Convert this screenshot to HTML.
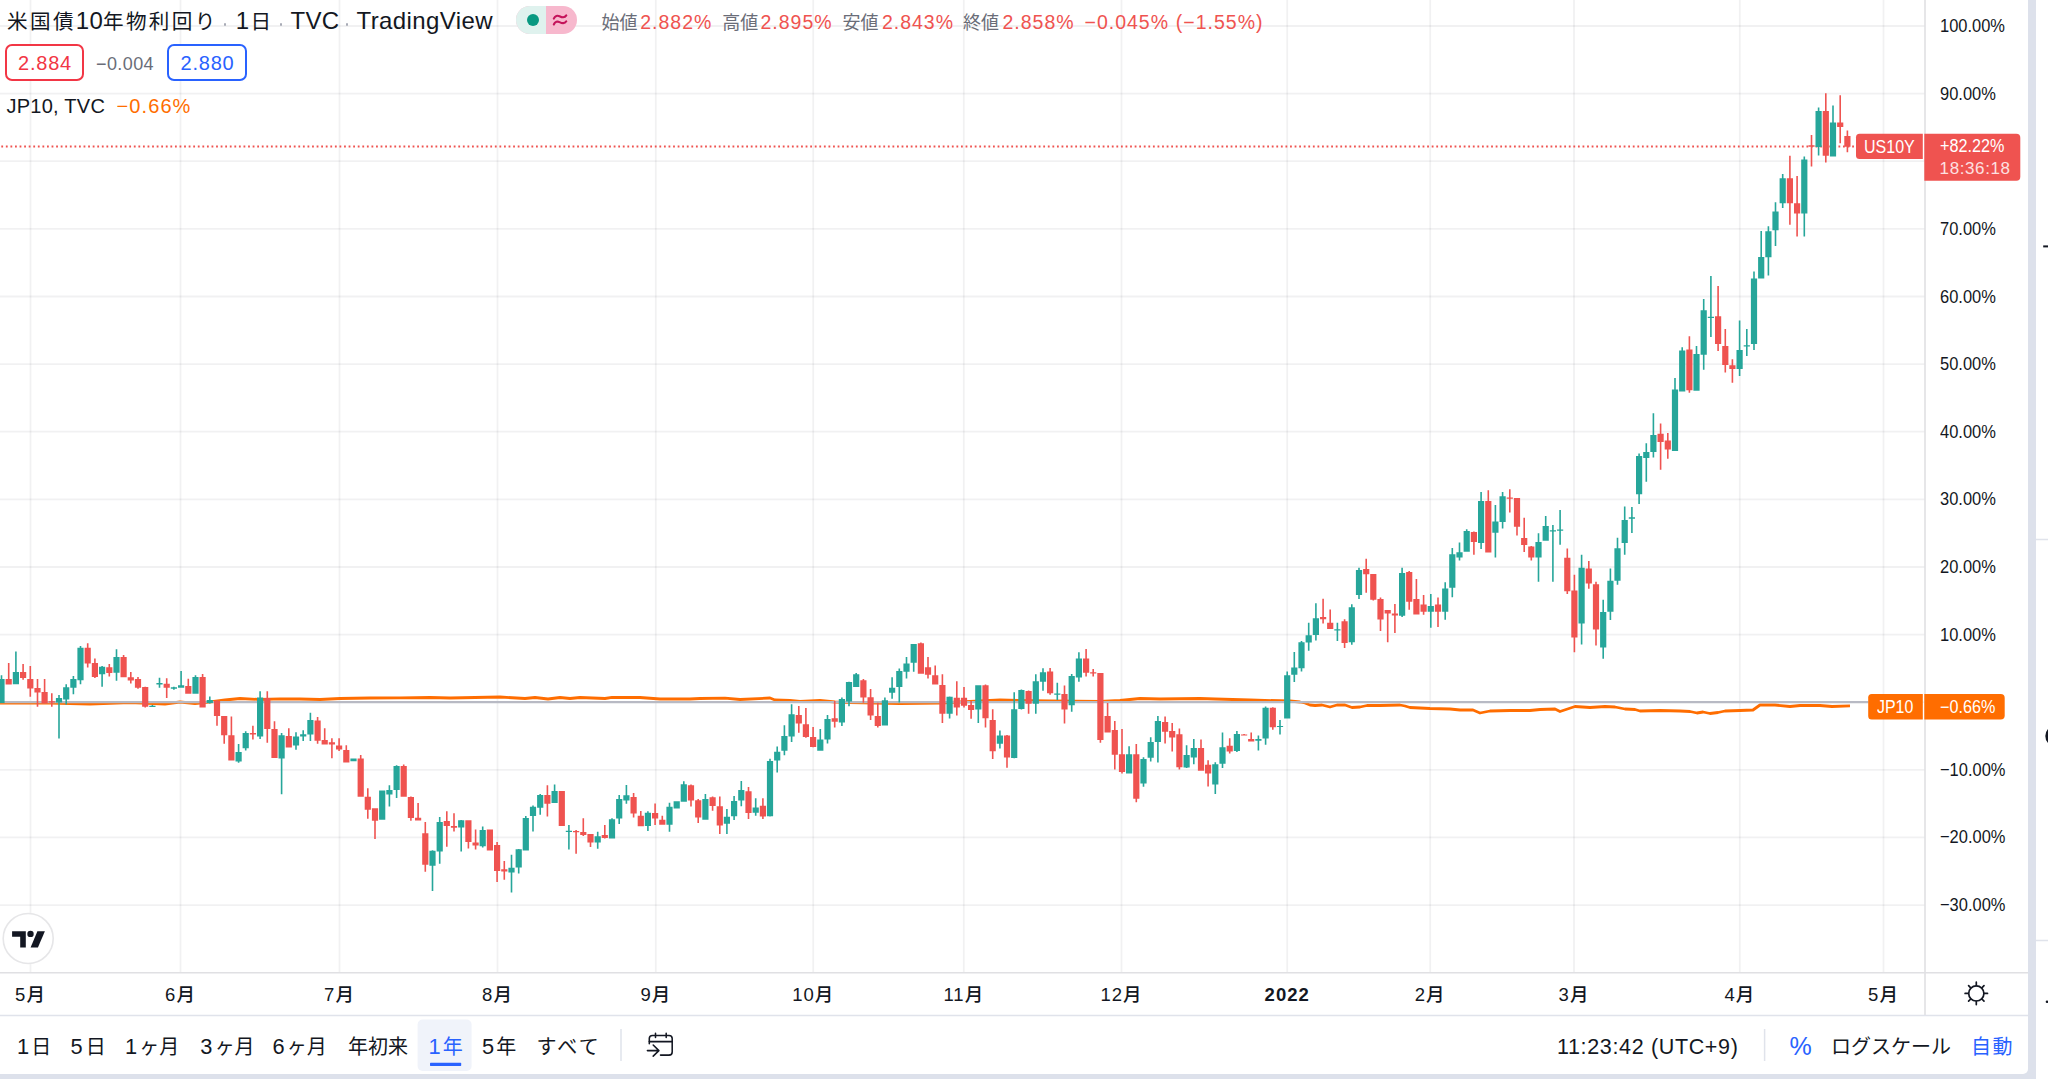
<!DOCTYPE html>
<html lang="ja">
<head>
<meta charset="utf-8">
<title>米国債10年物利回り</title>
<style>
*{margin:0;padding:0;box-sizing:border-box}
html,body{width:2048px;height:1079px;overflow:hidden;background:#fff}
body{position:relative;font-family:"Liberation Sans","Noto Sans CJK JP",sans-serif;color:#131722}
.abs{position:absolute;white-space:nowrap}
#card{position:absolute;left:0;top:0;width:2028px;height:1074px;background:#fff;border-bottom-right-radius:5px;overflow:hidden}
#rstrip{position:absolute;left:2028px;top:0;width:8px;height:1079px;background:#dde1eb}
#bstrip{position:absolute;left:0;top:1074px;width:2036px;height:5px;background:#dde1eb}
svg{position:absolute;left:0;top:0}
.pl{position:absolute;left:1940px;font-size:18.5px;line-height:22px;color:#131722;transform:scaleX(0.89);transform-origin:0 0}
.tl{position:absolute;top:983.5px;width:80px;text-align:center;font-size:18.5px;line-height:22px;color:#131722;font-weight:500;letter-spacing:1px}
.hdr{position:absolute;top:6px;font-size:23px;line-height:30px;color:#131722}
.dot{position:absolute;top:23px;width:2.6px;height:2.6px;border-radius:50%;background:#a8abb6}
.ohlc{position:absolute;top:10px;font-size:19.5px;line-height:24px;color:#ef5350;white-space:nowrap;letter-spacing:1px}
.ohlc.k{color:#6a6d78;font-size:18px;letter-spacing:0;top:11px}
.box{position:absolute;top:44px;height:37px;background:#fff;border:2px solid;border-radius:7px;font-size:20px;line-height:33px;text-align:center;letter-spacing:0.8px;padding-left:1px}
.tb{position:absolute;top:1032px;font-size:20px;line-height:30px;color:#131722}
.dg{font-size:21.8px;letter-spacing:2.2px}
</style>
</head>
<body>
<div style="position:absolute;left:2016px;top:1062px;width:14px;height:14px;background:#dde1eb"></div>
<div id="card">
<svg width="2028" height="1074" viewBox="0 0 2028 1074">
  <g stroke="rgba(42,46,57,0.065)" stroke-width="1.8" fill="none"><path d="M0 26H1925"/><path d="M0 93.6H1925"/><path d="M0 161.2H1925"/><path d="M0 228.9H1925"/><path d="M0 296.5H1925"/><path d="M0 364.1H1925"/><path d="M0 431.7H1925"/><path d="M0 499.3H1925"/><path d="M0 567H1925"/><path d="M0 634.6H1925"/><path d="M0 702.2H1925"/><path d="M0 769.8H1925"/><path d="M0 837.4H1925"/><path d="M0 905.1H1925"/><path d="M30.5 0V972"/><path d="M180.5 0V972"/><path d="M339.5 0V972"/><path d="M497.5 0V972"/><path d="M655.8 0V972"/><path d="M813.2 0V972"/><path d="M963.8 0V972"/><path d="M1121.5 0V972"/><path d="M1287.2 0V972"/><path d="M1430.2 0V972"/><path d="M1574 0V972"/><path d="M1739.8 0V972"/><path d="M1883.5 0V972"/></g>
  <path d="M0 703.2 L50 703 L90 704 L130 702.5 L165 704 L180 702 L195 703.5 L210 702 L225 700 L240 698.5 L260 699.5 L280 698.8 L300 699 L320 699.5 L340 698.5 L370 698 L400 697.8 L430 697.5 L450 698 L500 697 L525 698.5 L535 697.5 L548 699 L560 697.5 L570 698.5 L580 697.5 L605 698.5 L612 697.3 L640 697.5 L660 699 L690 699 L700 698.5 L725 698.2 L740 699.5 L770 698 L775 700 L790 700.5 L800 701.5 L820 700.5 L835 702 L850 702.5 L900 703.5 L940 703 L970 701.5 L1000 700 L1050 701 L1100 701.5 L1120 700.5 L1140 698.5 L1160 699 L1200 698.5 L1215 699 L1250 700 L1290 701 L1300 702 L1305 703 L1310 705 L1315 705.5 L1322 705 L1330 707 L1337 705 L1345 705 L1352 707.5 L1360 707 L1367 705.5 L1380 705.5 L1400 705 L1405 706 L1410 707.5 L1430 708.5 L1450 709 L1460 710 L1473 710 L1480 713 L1490 711 L1510 710.5 L1530 710.5 L1540 709.5 L1555 709 L1560 711.5 L1575 706.5 L1590 707.5 L1605 706.5 L1615 707 L1625 709 L1635 709.5 L1640 711 L1660 710.5 L1680 711 L1690 711.5 L1697 713 L1703 712 L1710 713.5 L1718 712.5 L1725 711 L1740 710.5 L1753 710 L1760 705 L1775 705 L1790 706.5 L1800 705.5 L1820 705.5 L1832 706.5 L1850 705.8" stroke="#ff6d00" stroke-width="2.8" fill="none" stroke-linejoin="round"/>
  <path d="M0 702.1H1868.5" stroke="#b8bac4" stroke-width="2.2"/>
  <path d="M0 146.5H1856" stroke="#ef5350" stroke-width="1.8" stroke-dasharray="1.8 2.77" stroke-dashoffset="3.27"/>
  <path fill="#26a69a" d="M0.7 675.2h1.6v27.8h-1.6zM-1.6 678.9h6.2v24h-6.2zM15.1 651.5h1.6v32.7h-1.6zM12.8 672h6.2v12.2h-6.2zM58.2 695.1h1.6v43.4h-1.6zM55.9 698.1h6.2v4.4h-6.2zM65.4 684.2h1.6v20.2h-1.6zM63.1 687.3h6.2v12.2h-6.2zM72.6 675.9h1.6v18.3h-1.6zM70.3 678.9h6.2v8.8h-6.2zM79.7 646h1.6v38.2h-1.6zM77.4 647.8h6.2v32.5h-6.2zM101.3 666.1h1.6v20.6h-1.6zM99 666.8h6.2v7.4h-6.2zM115.7 649.2h1.6v31.6h-1.6zM113.4 657.1h6.2v15.7h-6.2zM151.6 705.1h1.6v1.7h-1.6zM149.3 705.8h6.2v1.2h-6.2zM158.7 677.8h1.6v9.9h-1.6zM156.4 683h6.2v1.5h-6.2zM173.1 686.7h1.6v3h-1.6zM170.8 687.2h6.2v1.5h-6.2zM180.3 671.1h1.6v16.6h-1.6zM178 685.2h6.2v2.5h-6.2zM194.7 675.3h1.6v18.4h-1.6zM192.4 677.1h6.2v16.6h-6.2zM209 696.6h1.6v6.8h-1.6zM206.7 700.1h6.2v3h-6.2zM237.8 744.1h1.6v18.7h-1.6zM235.5 752h6.2v9.6h-6.2zM244.9 731.2h1.6v19.3h-1.6zM242.6 733.1h6.2v15.1h-6.2zM259.3 691.2h1.6v47.9h-1.6zM257 697.5h6.2v39.1h-6.2zM280.8 733.1h1.6v61.1h-1.6zM278.5 735.2h6.2v23.4h-6.2zM295.2 732.2h1.6v17.5h-1.6zM292.9 736.4h6.2v9.2h-6.2zM302.4 730.2h1.6v10.7h-1.6zM300.1 734.2h6.2v2.2h-6.2zM309.6 712.7h1.6v28.2h-1.6zM307.3 720.1h6.2v14.5h-6.2zM352.7 758.5h1.6v2.7h-1.6zM350.4 758.5h6.2v2.7h-6.2zM381.4 790.5h1.6v29.2h-1.6zM379.1 790.5h6.2v29.2h-6.2zM388.6 785.2h1.6v21.2h-1.6zM386.3 790.1h6.2v4.4h-6.2zM395.8 765.3h1.6v32.6h-1.6zM393.5 765.9h6.2v24.2h-6.2zM431.7 850.2h1.6v40.9h-1.6zM429.4 850.8h6.2v14.9h-6.2zM438.9 817.1h1.6v46.7h-1.6zM436.6 822h6.2v29.5h-6.2zM460.4 820h1.6v31.5h-1.6zM458.1 820.3h6.2v7.1h-6.2zM481.9 826.4h1.6v21.2h-1.6zM479.6 830.1h6.2v16.2h-6.2zM510.7 854.7h1.6v37.9h-1.6zM508.4 867.7h6.2v4.9h-6.2zM517.9 848.9h1.6v24.7h-1.6zM515.6 849.3h6.2v18.2h-6.2zM525 816.1h1.6v34.5h-1.6zM522.7 818.1h6.2v32.4h-6.2zM532.2 805.4h1.6v26.2h-1.6zM529.9 806.7h6.2v9.3h-6.2zM539.4 794h1.6v20.8h-1.6zM537.1 795h6.2v12.7h-6.2zM553.8 784.4h1.6v18.7h-1.6zM551.5 791.1h6.2v11.9h-6.2zM568.1 825.1h1.6v24.4h-1.6zM565.8 830.7h6.2v1.3h-6.2zM596.9 831.8h1.6v17h-1.6zM594.6 836.2h6.2v6.3h-6.2zM611.2 818.2h1.6v20.4h-1.6zM608.9 819.3h6.2v19.3h-6.2zM618.4 795h1.6v28.9h-1.6zM616.1 799.1h6.2v19.5h-6.2zM625.6 785h1.6v18.7h-1.6zM623.3 795.2h6.2v5.4h-6.2zM647.1 811.2h1.6v19.7h-1.6zM644.8 812.8h6.2v13.2h-6.2zM668.7 802.8h1.6v29h-1.6zM666.4 806.8h6.2v17.9h-6.2zM675.9 801.2h1.6v7.4h-1.6zM673.6 801.2h6.2v7.4h-6.2zM683 781.3h1.6v20.4h-1.6zM680.7 784.3h6.2v17.4h-6.2zM704.6 794.1h1.6v25.7h-1.6zM702.3 799.1h6.2v20.7h-6.2zM726.1 809.1h1.6v24.8h-1.6zM723.8 816.7h6.2v7h-6.2zM733.3 796.1h1.6v23.8h-1.6zM731 801h6.2v15.3h-6.2zM740.5 781.1h1.6v25.2h-1.6zM738.2 789.9h6.2v10.6h-6.2zM754.9 798.2h1.6v17.6h-1.6zM752.6 807.5h6.2v5.3h-6.2zM769.2 758.8h1.6v57.6h-1.6zM766.9 760.9h6.2v55.4h-6.2zM776.4 746.5h1.6v25.9h-1.6zM774.1 751.7h6.2v8.8h-6.2zM783.6 725.3h1.6v29.9h-1.6zM781.3 735.9h6.2v14.8h-6.2zM790.8 704.2h1.6v37.7h-1.6zM788.5 714.2h6.2v22.4h-6.2zM819.5 728.9h1.6v21.8h-1.6zM817.2 739.4h6.2v11.3h-6.2zM826.7 715.1h1.6v28.5h-1.6zM824.4 719h6.2v20.4h-6.2zM841.1 697.5h1.6v28.5h-1.6zM838.8 698.9h6.2v23.6h-6.2zM848.2 681.7h1.6v24.6h-1.6zM845.9 682h6.2v19.4h-6.2zM855.4 672.9h1.6v14.1h-1.6zM853.1 674.3h6.2v12.7h-6.2zM884.1 697.4h1.6v28.2h-1.6zM881.8 700.2h6.2v25.4h-6.2zM891.3 677.3h1.6v21.5h-1.6zM889 687.7h6.2v5.1h-6.2zM898.5 668.6h1.6v33.9h-1.6zM896.2 671h6.2v16h-6.2zM905.7 657.1h1.6v21.5h-1.6zM903.4 663.4h6.2v8.3h-6.2zM912.9 643.9h1.6v27.8h-1.6zM910.6 643.9h6.2v18.8h-6.2zM948.8 696.4h1.6v22.2h-1.6zM946.5 696.7h6.2v17h-6.2zM977.5 685.3h1.6v37.8h-1.6zM975.2 685.3h6.2v24.2h-6.2zM999.1 730.4h1.6v18.1h-1.6zM996.8 735.4h6.2v8.3h-6.2zM1013.4 692.3h1.6v65.9h-1.6zM1011.1 709.2h6.2v48.9h-6.2zM1020.6 689.5h1.6v20h-1.6zM1018.3 690.1h6.2v18.9h-6.2zM1035 674.3h1.6v39.4h-1.6zM1032.7 681.3h6.2v22.5h-6.2zM1042.2 668.3h1.6v22.4h-1.6zM1039.9 672.3h6.2v9.4h-6.2zM1056.5 682.8h1.6v17.3h-1.6zM1054.2 693.5h6.2v1.2h-6.2zM1070.9 673.9h1.6v37.8h-1.6zM1068.6 675.9h6.2v29.4h-6.2zM1078.1 652.3h1.6v29.4h-1.6zM1075.8 658.6h6.2v18.9h-6.2zM1128.3 746.3h1.6v27.2h-1.6zM1126 754.2h6.2v19.4h-6.2zM1142.7 757.3h1.6v29.4h-1.6zM1140.4 758.9h6.2v24.7h-6.2zM1149.9 737.3h1.6v24.3h-1.6zM1147.6 742h6.2v15.7h-6.2zM1157.1 715.9h1.6v46.6h-1.6zM1154.8 721.1h6.2v20.9h-6.2zM1185.8 745.3h1.6v22.8h-1.6zM1183.5 755.1h6.2v12.5h-6.2zM1193 738.9h1.6v25.3h-1.6zM1190.7 748.1h6.2v9.3h-6.2zM1214.5 762.3h1.6v31.7h-1.6zM1212.2 764.2h6.2v20.4h-6.2zM1221.7 732.5h1.6v35.6h-1.6zM1219.4 747.3h6.2v16.4h-6.2zM1236.1 731.1h1.6v20.8h-1.6zM1233.8 734h6.2v17.1h-6.2zM1257.6 735.6h1.6v15h-1.6zM1255.3 738.9h6.2v1.9h-6.2zM1264.8 706.4h1.6v38.3h-1.6zM1262.5 707.8h6.2v30.6h-6.2zM1279.2 720h1.6v14.4h-1.6zM1276.9 725.9h6.2v1.2h-6.2zM1286.4 671.4h1.6v47.1h-1.6zM1284.1 675.3h6.2v43.2h-6.2zM1293.5 651.9h1.6v30h-1.6zM1291.2 667.5h6.2v7.2h-6.2zM1300.7 641h1.6v30.4h-1.6zM1298.4 642.2h6.2v26.1h-6.2zM1307.9 622.7h1.6v28h-1.6zM1305.6 635.2h6.2v7.4h-6.2zM1315.1 603.2h1.6v37.4h-1.6zM1312.8 618.2h6.2v16.9h-6.2zM1336.6 622.8h1.6v18.1h-1.6zM1334.3 629.2h6.2v1.2h-6.2zM1351 604.3h1.6v40.5h-1.6zM1348.7 607.3h6.2v35h-6.2zM1358.2 567.8h1.6v31.1h-1.6zM1355.9 570h6.2v25h-6.2zM1401.3 567.8h1.6v49.1h-1.6zM1399 573.1h6.2v42.7h-6.2zM1430 593.9h1.6v33.9h-1.6zM1427.7 606.1h6.2v5.6h-6.2zM1444.4 582.2h1.6v37.6h-1.6zM1442.1 588.4h6.2v23.3h-6.2zM1451.5 548h1.6v49.3h-1.6zM1449.2 554.2h6.2v33.6h-6.2zM1458.7 542.5h1.6v18.1h-1.6zM1456.4 552.2h6.2v5.3h-6.2zM1465.9 529.3h1.6v22.5h-1.6zM1463.6 531h6.2v20.8h-6.2zM1480.3 492h1.6v57h-1.6zM1478 501.1h6.2v41.9h-6.2zM1494.6 505h1.6v52.5h-1.6zM1492.3 521.4h6.2v11.4h-6.2zM1501.8 492h1.6v36.4h-1.6zM1499.5 496.2h6.2v25.7h-6.2zM1537.7 533.2h1.6v48.6h-1.6zM1535.4 542h6.2v15.5h-6.2zM1544.9 516.1h1.6v24.6h-1.6zM1542.6 526.1h6.2v14.6h-6.2zM1552.1 524.9h1.6v56.9h-1.6zM1549.8 530.2h6.2v1.2h-6.2zM1559.3 509.9h1.6v34.9h-1.6zM1557 529.6h6.2v1.2h-6.2zM1580.8 554.8h1.6v89.8h-1.6zM1578.5 567.7h6.2v55.8h-6.2zM1602.4 599.7h1.6v59h-1.6zM1600.1 612h6.2v35.6h-6.2zM1609.6 568.4h1.6v51.6h-1.6zM1607.3 580.7h6.2v31h-6.2zM1616.7 537.7h1.6v47h-1.6zM1614.4 548.3h6.2v32.4h-6.2zM1623.9 506.5h1.6v48.2h-1.6zM1621.6 520h6.2v22.9h-6.2zM1631.1 507.1h1.6v25.9h-1.6zM1628.8 517.3h6.2v1.4h-6.2zM1638.3 453.5h1.6v50.6h-1.6zM1636 456.1h6.2v38.2h-6.2zM1645.5 443.3h1.6v38.4h-1.6zM1643.2 452h6.2v6.1h-6.2zM1652.6 413.3h1.6v44.3h-1.6zM1650.3 435.1h6.2v16.9h-6.2zM1674.2 378h1.6v73.1h-1.6zM1671.9 389.4h6.2v61.6h-6.2zM1681.4 347.3h1.6v44.1h-1.6zM1679.1 350.6h6.2v40.8h-6.2zM1695.7 345.9h1.6v44.9h-1.6zM1693.4 354.1h6.2v36.7h-6.2zM1702.9 299h1.6v70.8h-1.6zM1700.6 310.2h6.2v44.5h-6.2zM1710.1 275.9h1.6v61.2h-1.6zM1707.8 316.7h6.2v1.2h-6.2zM1738.8 320.4h1.6v55.5h-1.6zM1736.5 350h6.2v19h-6.2zM1746 329h1.6v27.1h-1.6zM1743.7 345.3h6.2v1.2h-6.2zM1753.2 271.4h1.6v78.6h-1.6zM1750.9 278.6h6.2v65.3h-6.2zM1760.4 231h1.6v47.6h-1.6zM1758.1 257.1h6.2v21.4h-6.2zM1767.6 226.3h1.6v49.3h-1.6zM1765.3 231.2h6.2v26.1h-6.2zM1774.7 202.2h1.6v43.8h-1.6zM1772.4 211.4h6.2v18.9h-6.2zM1781.9 174.1h1.6v33.8h-1.6zM1779.6 178.2h6.2v25.1h-6.2zM1803.5 156.4h1.6v80.1h-1.6zM1801.2 159.4h6.2v54h-6.2zM1817.8 107.5h1.6v47.9h-1.6zM1815.5 111h6.2v35.9h-6.2zM1832.2 105.5h1.6v50.9h-1.6zM1829.9 122.4h6.2v34h-6.2z"/><path fill="#ef5350" d="M7.9 663.1h1.6v21.4h-1.6zM5.6 678.9h6.2v5.6h-6.2zM22.3 664.1h1.6v15.7h-1.6zM20 672h6.2v6h-6.2zM29.5 666.1h1.6v30.6h-1.6zM27.2 678.9h6.2v9.7h-6.2zM36.7 678.9h1.6v27.8h-1.6zM34.4 688.1h6.2v4.4h-6.2zM43.8 678.9h1.6v24.7h-1.6zM41.5 692.1h6.2v11.5h-6.2zM51 693.2h1.6v13.5h-1.6zM48.7 701.2h6.2v1.2h-6.2zM86.9 643.2h1.6v24.3h-1.6zM84.6 647.8h6.2v15.8h-6.2zM94.1 658.5h1.6v19.5h-1.6zM91.8 663.1h6.2v13.9h-6.2zM108.5 664.1h1.6v12.5h-1.6zM106.2 667.3h6.2v5.6h-6.2zM122.8 655h1.6v22.2h-1.6zM120.5 657.1h6.2v20.2h-6.2zM130 672h1.6v11.5h-1.6zM127.7 677.3h6.2v3.1h-6.2zM137.2 677h1.6v11.7h-1.6zM134.9 678.9h6.2v8.8h-6.2zM144.4 686.7h1.6v20.9h-1.6zM142.1 687h6.2v19.7h-6.2zM165.9 678.3h1.6v19.6h-1.6zM163.6 683.7h6.2v4h-6.2zM187.5 678.8h1.6v14.8h-1.6zM185.2 686h6.2v7.7h-6.2zM201.8 674.1h1.6v33.4h-1.6zM199.5 677.1h6.2v30.4h-6.2zM216.2 700.1h1.6v25.7h-1.6zM213.9 700.8h6.2v15.1h-6.2zM223.4 715.9h1.6v27.9h-1.6zM221.1 715.9h6.2v19.3h-6.2zM230.6 716.4h1.6v44h-1.6zM228.3 735.2h6.2v25.2h-6.2zM252.1 725.7h1.6v13.9h-1.6zM249.8 733.1h6.2v1.5h-6.2zM266.5 691.2h1.6v51.5h-1.6zM264.2 698.1h6.2v30.8h-6.2zM273.7 721.3h1.6v36.6h-1.6zM271.4 729h6.2v28.9h-6.2zM288 728.2h1.6v19.3h-1.6zM285.7 736.1h6.2v11.4h-6.2zM316.8 717h1.6v26.7h-1.6zM314.5 720.4h6.2v20.3h-6.2zM323.9 728.3h1.6v16.3h-1.6zM321.6 740.1h6.2v4.4h-6.2zM331.1 738.2h1.6v20h-1.6zM328.8 742.2h6.2v2.4h-6.2zM338.3 738.2h1.6v12.9h-1.6zM336 745.6h6.2v4h-6.2zM345.5 745.2h1.6v17.2h-1.6zM343.2 750.1h6.2v12.3h-6.2zM359.9 754.9h1.6v41.8h-1.6zM357.6 758.5h6.2v38.3h-6.2zM367 788.2h1.6v30.5h-1.6zM364.7 796.8h6.2v13h-6.2zM374.2 808.3h1.6v30.7h-1.6zM371.9 808.3h6.2v12.5h-6.2zM402.9 764.4h1.6v32.3h-1.6zM400.6 765.9h6.2v30.8h-6.2zM410.1 796.5h1.6v24.3h-1.6zM407.8 797.1h6.2v20.8h-6.2zM417.3 803h1.6v17.5h-1.6zM415 817.8h6.2v2.7h-6.2zM424.5 822h1.6v49.8h-1.6zM422.2 833.3h6.2v31.5h-6.2zM446 811.3h1.6v35.4h-1.6zM443.7 821h6.2v4.9h-6.2zM453.2 813.2h1.6v18.4h-1.6zM450.9 825.9h6.2v1.8h-6.2zM467.6 820.3h1.6v28.2h-1.6zM465.3 820.3h6.2v21.7h-6.2zM474.8 829.4h1.6v20.1h-1.6zM472.5 842.4h6.2v3.2h-6.2zM489.1 829.4h1.6v21.2h-1.6zM486.8 829.4h6.2v21.2h-6.2zM496.3 842h1.6v40h-1.6zM494 845h6.2v26h-6.2zM503.5 861h1.6v18.7h-1.6zM501.2 869.3h6.2v2.3h-6.2zM546.6 785.3h1.6v31.1h-1.6zM544.3 795h6.2v8.8h-6.2zM561 791.1h1.6v34.8h-1.6zM558.7 791.1h6.2v34.8h-6.2zM575.3 830.1h1.6v23.6h-1.6zM573 831.1h6.2v1.2h-6.2zM582.5 818.2h1.6v17.8h-1.6zM580.2 832.1h6.2v2.8h-6.2zM589.7 834.1h1.6v12.8h-1.6zM587.4 834.1h6.2v8.3h-6.2zM604 825.1h1.6v13.5h-1.6zM601.7 835.1h6.2v2.8h-6.2zM632.8 792.9h1.6v24.7h-1.6zM630.5 796.9h6.2v16.7h-6.2zM640 811h1.6v15.3h-1.6zM637.7 815.8h6.2v10.5h-6.2zM654.3 803.4h1.6v21.5h-1.6zM652 813h6.2v5.6h-6.2zM661.5 815.8h1.6v8.9h-1.6zM659.2 819.8h6.2v4.9h-6.2zM690.2 784.6h1.6v22h-1.6zM687.9 785.2h6.2v15.4h-6.2zM697.4 799.1h1.6v23.9h-1.6zM695.1 800.3h6.2v17.3h-6.2zM711.8 796.6h1.6v14.2h-1.6zM709.5 797.3h6.2v8.6h-6.2zM719 796.6h1.6v37.3h-1.6zM716.7 806.2h6.2v19.2h-6.2zM747.7 786.9h1.6v32h-1.6zM745.4 791.2h6.2v21.7h-6.2zM762.1 798.2h1.6v20.8h-1.6zM759.8 805.8h6.2v10.6h-6.2zM798 706h1.6v26.8h-1.6zM795.7 715.1h6.2v8.4h-6.2zM805.1 708.1h1.6v29.6h-1.6zM802.8 724.3h6.2v12.8h-6.2zM812.3 727.1h1.6v20.1h-1.6zM810 737.1h6.2v10h-6.2zM833.9 701h1.6v26.4h-1.6zM831.6 718.3h6.2v3.5h-6.2zM862.6 679h1.6v23.8h-1.6zM860.3 680.3h6.2v17.3h-6.2zM869.8 689.1h1.6v31h-1.6zM867.5 697.2h6.2v18.3h-6.2zM877 702.8h1.6v24.6h-1.6zM874.7 716h6.2v10h-6.2zM920.1 642.5h1.6v31.3h-1.6zM917.8 643.2h6.2v30.6h-6.2zM927.2 657.1h1.6v21.5h-1.6zM924.9 667.3h6.2v7.5h-6.2zM934.4 665.4h1.6v19h-1.6zM932.1 675.2h6.2v9.3h-6.2zM941.6 674.2h1.6v48.7h-1.6zM939.3 684.9h6.2v28.8h-6.2zM956 681.2h1.6v34.3h-1.6zM953.7 697.8h6.2v9.7h-6.2zM963.2 687h1.6v20.6h-1.6zM960.9 697.8h6.2v7.9h-6.2zM970.3 700.9h1.6v17.8h-1.6zM968 705.1h6.2v4.9h-6.2zM984.7 684.5h1.6v43.1h-1.6zM982.4 685.3h6.2v32.9h-6.2zM991.9 709.2h1.6v49.8h-1.6zM989.6 720.1h6.2v31.1h-6.2zM1006.2 734.9h1.6v32.9h-1.6zM1003.9 735.4h6.2v22.2h-6.2zM1027.8 690.5h1.6v23.2h-1.6zM1025.5 690.9h6.2v12.8h-6.2zM1049.3 668h1.6v26.8h-1.6zM1047 671.5h6.2v21.7h-6.2zM1063.7 685.4h1.6v38.1h-1.6zM1061.4 693.9h6.2v15.7h-6.2zM1085.3 649.1h1.6v27.4h-1.6zM1083 658.6h6.2v14.2h-6.2zM1092.4 669.1h1.6v7.4h-1.6zM1090.1 672.3h6.2v1.2h-6.2zM1099.6 673.1h1.6v69.6h-1.6zM1097.3 673.1h6.2v66.9h-6.2zM1106.8 703h1.6v29.6h-1.6zM1104.5 715.9h6.2v16.7h-6.2zM1114 721.1h1.6v48.3h-1.6zM1111.7 730.1h6.2v24.6h-6.2zM1121.2 729h1.6v44.6h-1.6zM1118.9 754.2h6.2v17.8h-6.2zM1135.5 743.9h1.6v58.3h-1.6zM1133.2 754.2h6.2v44.6h-6.2zM1164.3 716.4h1.6v27.2h-1.6zM1162 721.9h6.2v9.8h-6.2zM1171.4 723.1h1.6v28.3h-1.6zM1169.1 731h6.2v6.6h-6.2zM1178.6 728.5h1.6v40.9h-1.6zM1176.3 734.2h6.2v33.1h-6.2zM1200.2 739.5h1.6v31.1h-1.6zM1197.9 748.1h6.2v22.6h-6.2zM1207.3 760.3h1.6v26.3h-1.6zM1205 764.8h6.2v8.6h-6.2zM1228.9 738.3h1.6v15.2h-1.6zM1226.6 745.7h6.2v5.8h-6.2zM1243.3 734h1.6v1.2h-1.6zM1241 734.4h6.2v1.2h-6.2zM1250.4 732.5h1.6v9h-1.6zM1248.1 738.9h6.2v2.5h-6.2zM1272 707.2h1.6v22.6h-1.6zM1269.7 707.8h6.2v19.5h-6.2zM1322.3 598.8h1.6v24.7h-1.6zM1320 616.9h6.2v2.3h-6.2zM1329.4 609.5h1.6v19.5h-1.6zM1327.1 622.7h6.2v6.2h-6.2zM1343.8 619.2h1.6v28.7h-1.6zM1341.5 621.2h6.2v21.7h-6.2zM1365.4 558.7h1.6v34.1h-1.6zM1363.1 568.9h6.2v5.3h-6.2zM1372.5 573.9h1.6v26.7h-1.6zM1370.2 573.9h6.2v25.9h-6.2zM1379.7 597.6h1.6v33.4h-1.6zM1377.4 599.1h6.2v20.3h-6.2zM1386.9 610h1.6v32.2h-1.6zM1384.6 610h6.2v3.6h-6.2zM1394.1 603.9h1.6v29.2h-1.6zM1391.8 613.6h6.2v1.8h-6.2zM1408.4 570.9h1.6v38.9h-1.6zM1406.1 572h6.2v29.7h-6.2zM1415.6 579.1h1.6v35.4h-1.6zM1413.3 598.9h6.2v15.6h-6.2zM1422.8 595h1.6v19.7h-1.6zM1420.5 604.5h6.2v7.2h-6.2zM1437.2 597.6h1.6v29.4h-1.6zM1434.9 604.5h6.2v7.2h-6.2zM1473.1 531.4h1.6v23.4h-1.6zM1470.8 531.9h6.2v10h-6.2zM1487.5 490.2h1.6v62.3h-1.6zM1485.2 501.1h6.2v51.4h-6.2zM1509 489.2h1.6v23.4h-1.6zM1506.7 497.6h6.2v1.2h-6.2zM1516.2 498h1.6v37.5h-1.6zM1513.9 498h6.2v28.7h-6.2zM1523.4 517.8h1.6v34.3h-1.6zM1521.1 538.1h6.2v7h-6.2zM1530.5 546h1.6v14.6h-1.6zM1528.2 546.5h6.2v10.9h-6.2zM1566.5 548.6h1.6v45.4h-1.6zM1564.2 557.8h6.2v33.4h-6.2zM1573.6 574.7h1.6v77.5h-1.6zM1571.3 590.5h6.2v47h-6.2zM1588 561h1.6v27.8h-1.6zM1585.7 568.4h6.2v15.1h-6.2zM1595.2 581.7h1.6v63.7h-1.6zM1592.9 584.2h6.2v45.4h-6.2zM1659.8 423.5h1.6v46.3h-1.6zM1657.5 433.7h6.2v8.2h-6.2zM1667 433.1h1.6v25.7h-1.6zM1664.7 440.4h6.2v9h-6.2zM1688.6 336.3h1.6v56.5h-1.6zM1686.3 349.4h6.2v40.8h-6.2zM1717.3 286.1h1.6v64.9h-1.6zM1715 316.3h6.2v27.6h-6.2zM1724.5 329h1.6v43.5h-1.6zM1722.2 345.9h6.2v19h-6.2zM1731.6 359.2h1.6v23.5h-1.6zM1729.3 365.3h6.2v3.7h-6.2zM1789.1 155.8h1.6v68.9h-1.6zM1786.8 178.2h6.2v25.1h-6.2zM1796.3 176.1h1.6v60.3h-1.6zM1794 203.2h6.2v10.2h-6.2zM1810.7 135h1.6v31.6h-1.6zM1808.4 145.2h6.2v1.6h-6.2zM1825 93.2h1.6v69.3h-1.6zM1822.7 111h6.2v44.8h-6.2zM1839.4 95.3h1.6v47.9h-1.6zM1837.1 122.4h6.2v4.5h-6.2zM1846.6 130.5h1.6v21.8h-1.6zM1844.3 136h6.2v10.8h-6.2z"/>
  <!-- axes -->
  <path d="M1925 0V1015.5" stroke="#e0e0e3" stroke-width="1.6"/>
  <path d="M0 972.7H2028" stroke="#e0e0e3" stroke-width="1.6"/>
  <path d="M0 1015.5H2028" stroke="#e0e3eb" stroke-width="1.4"/>
  <!-- labels -->
  <path d="M1859.5 133.7H1922.8V158.9H1859.5Q1856 158.9 1856 155.4V137.2Q1856 133.7 1859.5 133.7Z" fill="#ef5350"/>
  <path d="M1924.3 133.7H2016.3Q2020.3 133.7 2020.3 137.7V176.7Q2020.3 180.7 2016.3 180.7H1924.3Z" fill="#ef5350"/>
  <path d="M1871.7 694H1922.8V719.4H1871.7Q1868.2 719.4 1868.2 715.9V697.5Q1868.2 694 1871.7 694Z" fill="#ff6d00"/>
  <path d="M1924.3 694H2000.7Q2004.7 694 2004.7 698V715.4Q2004.7 719.4 2000.7 719.4H1924.3Z" fill="#ff6d00"/>
  <!-- TV logo -->
  <circle cx="28.2" cy="938.5" r="25" fill="#fff" stroke="#e6e6e8" stroke-width="1.6"/>
  <path d="M12.1 931.2H25.8V947.6H20.2V936.8H12.1Z" fill="#131722"/>
  <circle cx="30.5" cy="933.9" r="3.2" fill="#131722"/>
  <path d="M37.4 931.2H44.9L37.9 947.6H30.6Z" fill="#131722"/>
  <!-- gear -->
  <g transform="translate(1976.3 993.4)" stroke="#131722" stroke-width="1.7" fill="none" stroke-linecap="round">
    <circle r="7.6"/>
    <path d="M0-11.2V-8M0 8V11.2M-11.2 0H-8M8 0H11.2M-7.7-7.7L-5.6-5.6M5.6 5.6L7.7 7.7M-7.7 7.7L-5.6 5.6M5.6-5.6L7.7-7.7"/>
  </g>
  <!-- toolbar -->
  <rect x="417.6" y="1019.6" width="54" height="51.3" rx="5" fill="#f0f3fa"/>
  <rect x="430" y="1062.8" width="31.2" height="3.1" rx="0.6" fill="#2962ff"/>
  <path d="M621 1029V1061M1764.6 1029V1061" stroke="#e0e3eb" stroke-width="1.5"/>
  <g stroke="#131722" stroke-width="1.55" fill="none" stroke-linecap="round" stroke-linejoin="round">
    <path d="M649.3 1043.8V1038.6Q649.3 1035.4 652.5 1035.4H669Q672.2 1035.4 672.2 1038.6V1051.9Q672.2 1055.1 669 1055.1H660.5"/>
    <path d="M655.5 1033.2V1037.5M666.2 1033.2V1037.5M649.3 1041.6H672.2"/>
    <path d="M647.4 1050.6H658.9M653.2 1045L658.9 1050.6L653.2 1056.1"/>
  </g>
</svg>

<!-- header -->
<div class="hdr" style="left:7px;top:5.5px"><span style="font-size:20.6px;letter-spacing:2.35px">米国債</span><span style="font-size:24px;letter-spacing:0.2px">10</span><span style="font-size:20.6px;letter-spacing:2.35px">年物利回り</span></div>
<div class="dot" style="left:223.8px"></div>
<div class="hdr" style="left:235.8px;top:5.5px"><span style="font-size:24px;letter-spacing:1.3px">1</span><span style="font-size:20.6px">日</span></div>
<div class="dot" style="left:279.7px"></div>
<div class="hdr" style="left:290.4px;font-size:24px;top:5.5px;letter-spacing:0.35px">TVC</div>
<div class="dot" style="left:345.7px"></div>
<div class="hdr" style="left:356.5px;font-size:24px;top:5.5px;letter-spacing:0.4px">TradingView</div>
<div class="abs" style="left:516px;top:6px;width:61px;height:28px;border-radius:14px;overflow:hidden;background:#f7b8cd">
  <div class="abs" style="left:0;top:0;width:30px;height:28px;background:#dff2ee"></div>
  <div class="abs" style="left:11.2px;top:7.8px;width:12.2px;height:12.2px;border-radius:50%;background:#089981"></div>
  <svg class="abs" style="left:0;top:0" width="61" height="28" viewBox="516 6 61 28"><path d="M553.8 18.6C555 15.6 557.5 15.2 559.5 16.2S564.5 18.4 566.3 15.4M553.8 24.5C555 21.5 557.5 21.1 559.5 22.1S564.5 24.3 566.3 21.3" stroke="#c4135a" stroke-width="2.1" fill="none" stroke-linecap="round"/></svg>
</div>
<div class="ohlc k" style="left:601.5px">始値</div>
<div class="ohlc v" style="left:640.2px">2.882%</div>
<div class="ohlc k" style="left:722.3px">高値</div>
<div class="ohlc v" style="left:760.5px">2.895%</div>
<div class="ohlc k" style="left:842.6px">安値</div>
<div class="ohlc v" style="left:881.9px">2.843%</div>
<div class="ohlc k" style="left:962.9px">終値</div>
<div class="ohlc v" style="left:1002.5px">2.858%</div>
<div class="ohlc v" style="left:1084.5px">−0.045%</div>
<div class="ohlc v" style="left:1175.8px">(−1.55%)</div>

<div class="box" style="left:5px;width:79px;border-color:#f23645;color:#f23645"><span style="position:relative;top:1.3px">2.884</span></div>
<div class="abs" style="left:96px;top:51px;font-size:18px;line-height:26px;color:#6a6d78;letter-spacing:0.4px">−0.004</div>
<div class="box" style="left:167px;width:80px;border-color:#2962ff;color:#2962ff"><span style="position:relative;top:1.3px">2.880</span></div>

<div class="abs" style="left:6.5px;top:93px;font-size:20px;line-height:26px;color:#131722;letter-spacing:0.25px">JP10, TVC</div>
<div class="abs" style="left:116.5px;top:93px;font-size:20px;line-height:26px;color:#ff6d00;letter-spacing:1.1px">−0.66%</div>

<!-- price axis labels -->
<div class="pl" style="top:15px">100.00%</div><div class="pl" style="top:82.6px">90.00%</div><div class="pl" style="top:217.9px">70.00%</div><div class="pl" style="top:285.5px">60.00%</div><div class="pl" style="top:353.1px">50.00%</div><div class="pl" style="top:420.7px">40.00%</div><div class="pl" style="top:488.3px">30.00%</div><div class="pl" style="top:556px">20.00%</div><div class="pl" style="top:623.6px">10.00%</div><div class="pl" style="top:758.8px">−10.00%</div><div class="pl" style="top:826.4px">−20.00%</div><div class="pl" style="top:894.1px">−30.00%</div>
<div class="abs" style="left:1864px;top:134.5px;font-size:18px;line-height:25px;color:#fff;transform:scaleX(0.89);transform-origin:0 0">US10Y</div>
<div class="abs" style="left:1939.6px;top:135px;font-size:18px;line-height:23px;color:#fff;transform:scaleX(0.9);transform-origin:0 0">+82.22%</div>
<div class="abs" style="left:1939.6px;top:156.5px;font-size:17px;line-height:23px;color:#fde0e0;letter-spacing:0.6px">18:36:18</div>
<div class="abs" style="left:1876.5px;top:694.5px;font-size:18px;line-height:25px;color:#fff;transform:scaleX(0.885);transform-origin:0 0">JP10</div>
<div class="abs" style="left:1940px;top:694.5px;font-size:18px;line-height:25px;color:#fff;transform:scaleX(0.9);transform-origin:0 0">−0.66%</div>

<!-- time axis -->
<div class="tl" style="left:-9.5px">5月</div><div class="tl" style="left:140.5px">6月</div><div class="tl" style="left:299.5px">7月</div><div class="tl" style="left:457.5px">8月</div><div class="tl" style="left:615.8px">9月</div><div class="tl" style="left:773.2px">10月</div><div class="tl" style="left:923.8px">11月</div><div class="tl" style="left:1081.5px">12月</div><div class="tl" style="left:1247.2px;font-weight:bold;transform:none">2022</div><div class="tl" style="left:1390.2px">2月</div><div class="tl" style="left:1534px">3月</div><div class="tl" style="left:1699.8px">4月</div><div class="tl" style="left:1843.5px">5月</div>

<!-- toolbar -->
<div class="tb" style="left:17px"><span class="dg">1</span>日</div>
<div class="tb" style="left:70.5px"><span class="dg" style="letter-spacing:3px">5</span>日</div>
<div class="tb" style="left:125px"><span class="dg">1</span>ヶ月</div>
<div class="tb" style="left:200.3px"><span class="dg">3</span>ヶ月</div>
<div class="tb" style="left:272.5px"><span class="dg">6</span>ヶ月</div>
<div class="tb" style="left:348px">年初来</div>
<div class="tb" style="left:428.5px;color:#2962ff"><span class="dg">1</span>年</div>
<div class="tb" style="left:482px"><span class="dg">5</span>年</div>
<div class="tb" style="left:536.5px;letter-spacing:2.2px">すべて</div>
<div class="tb" style="left:1557px;font-size:21.5px;letter-spacing:0.65px">11:23:42 (UTC+9)</div>
<div class="tb" style="left:1789.5px;color:#2962ff;font-size:25px;top:1030px;line-height:32px">%</div>
<div class="tb" style="left:1831px">ログスケール</div>
<div class="tb" style="left:1971px;color:#2962ff;letter-spacing:1.6px">自動</div>
</div>
<div id="rstrip"></div>
<svg style="position:absolute;left:2036px;top:0" width="12" height="1079" viewBox="2036 0 12 1079">
  <path d="M2036 539.5H2048M2036 940.6H2048" stroke="#e0e3eb" stroke-width="1.5"/>
  <path d="M2043.2 246.4H2048" stroke="#131722" stroke-width="2"/>
  <ellipse cx="2054" cy="736" rx="7.2" ry="8" fill="none" stroke="#131722" stroke-width="3"/>
  <circle cx="2047" cy="1001.7" r="1.3" fill="#131722"/>
</svg>
<div id="bstrip"></div>
</body>
</html>
